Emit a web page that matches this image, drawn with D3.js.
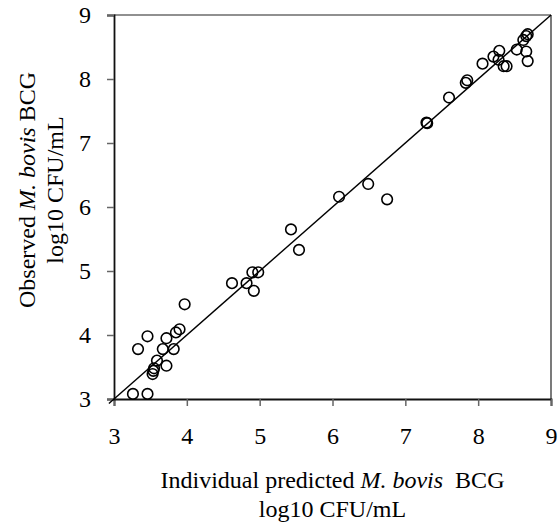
<!DOCTYPE html>
<html>
<head>
<meta charset="utf-8">
<script src="https://cdn.jsdelivr.net/npm/d3@7"></script>
<style>
  body { margin: 0; background: #fff; }
  svg text { font-family: "Liberation Serif", "Times New Roman", serif; fill: #000; }
</style>
</head>
<body>
<div id="chart"></div>
<script>
var predicted = [3.26, 3.46, 3.33, 3.46, 3.53, 3.54, 3.55, 3.59, 3.67, 3.72, 3.72, 3.82, 3.85, 3.90, 3.97,
                 4.62, 4.82, 4.90, 4.92, 4.98, 5.43, 5.54, 6.09, 6.49, 6.75, 7.29, 7.30, 7.60, 7.83, 7.85,
                 8.06, 8.21, 8.28, 8.29, 8.35, 8.39, 8.53, 8.62, 8.66, 8.68, 8.68, 8.66];
var observed  = [3.08, 3.08, 3.78, 3.98, 3.39, 3.44, 3.48, 3.60, 3.78, 3.52, 3.95, 3.78, 4.04, 4.09, 4.48,
                 4.81, 4.81, 4.98, 4.69, 4.98, 5.65, 5.33, 6.16, 6.36, 6.12, 7.32, 7.31, 7.71, 7.94, 7.98,
                 8.24, 8.35, 8.30, 8.44, 8.20, 8.20, 8.46, 8.61, 8.43, 8.28, 8.70, 8.67];
var xTicks = [3, 4, 5, 6, 7, 8, 9];
var yTicks = [3, 4, 5, 6, 7, 8, 9];
var identity = [2.93, 9];

var width = 558, height = 529;
var plotLeft = 114, plotRight = 551, plotTop = 15, plotBottom = 399;
var fontSize = 24;

var svg = d3.select("#chart").append("svg")
    .attr("width", width)
    .attr("height", height);

var x = d3.scaleLinear().domain([3, 9]).range([plotLeft, plotRight]);
var y = d3.scaleLinear().domain([3, 9]).range([plotBottom, plotTop]);

// frame top / right
svg.append("line")
    .attr("x1", plotLeft).attr("x2", plotRight).attr("y1", plotTop).attr("y2", plotTop)
    .attr("stroke", "#222").attr("stroke-width", 1.2);
svg.append("line")
    .attr("x1", plotRight).attr("x2", plotRight).attr("y1", plotTop).attr("y2", plotBottom)
    .attr("stroke", "#222").attr("stroke-width", 1.2);

var xAxis = d3.axisBottom(x).tickValues(xTicks).tickSize(7).tickPadding(21).tickFormat(d3.format("d"));
var yAxis = d3.axisLeft(y).tickValues(yTicks).tickSize(7).tickPadding(16).tickFormat(d3.format("d"));

var gx = svg.append("g")
    .attr("transform", "translate(0," + plotBottom + ")")
    .call(xAxis);
var gy = svg.append("g")
    .attr("transform", "translate(" + plotLeft + ",0)")
    .call(yAxis);

[gx, gy].forEach(function(g) {
  g.select(".domain").attr("stroke", "#111").attr("stroke-width", 1.8);
  g.selectAll(".tick line").attr("stroke", "#666").attr("stroke-width", 1.5);
  g.selectAll(".tick text").attr("font-size", fontSize).attr("font-family", "Liberation Serif");
});

// y = x line
var line = d3.line()
    .x(function(d) { return x(d); })
    .y(function(d) { return y(d); });
svg.append("path")
    .datum(identity)
    .attr("d", line)
    .attr("fill", "none")
    .attr("stroke", "#000")
    .attr("stroke-width", 1.4);

// points
svg.append("g").selectAll("circle")
    .data(predicted)
    .join("circle")
    .attr("cx", function(d) { return x(d); })
    .attr("cy", function(d, i) { return y(observed[i]); })
    .attr("r", 5.3)
    .attr("fill", "none")
    .attr("stroke", "#000")
    .attr("stroke-width", 1.6);

// x axis title
var xt = svg.append("text")
    .attr("x", (plotLeft + plotRight) / 2)
    .attr("y", 488)
    .attr("text-anchor", "middle")
    .attr("font-size", fontSize);
xt.append("tspan").text("Individual predicted ");
xt.append("tspan").attr("font-style", "italic").text("M. bovis");
xt.append("tspan").text("\u00a0 BCG");
svg.append("text")
    .attr("x", (plotLeft + plotRight) / 2)
    .attr("y", 517)
    .attr("text-anchor", "middle")
    .attr("font-size", fontSize)
    .text("log10 CFU/mL");

// y axis title
var yt = svg.append("text")
    .attr("transform", "translate(35,190) rotate(-90)")
    .attr("text-anchor", "middle")
    .attr("font-size", fontSize);
yt.append("tspan").text("Observed ");
yt.append("tspan").attr("font-style", "italic").text("M. bovis");
yt.append("tspan").text(" BCG");
svg.append("text")
    .attr("transform", "translate(63,190) rotate(-90)")
    .attr("text-anchor", "middle")
    .attr("font-size", fontSize)
    .text("log10 CFU/mL");
</script>
</body>
</html>
